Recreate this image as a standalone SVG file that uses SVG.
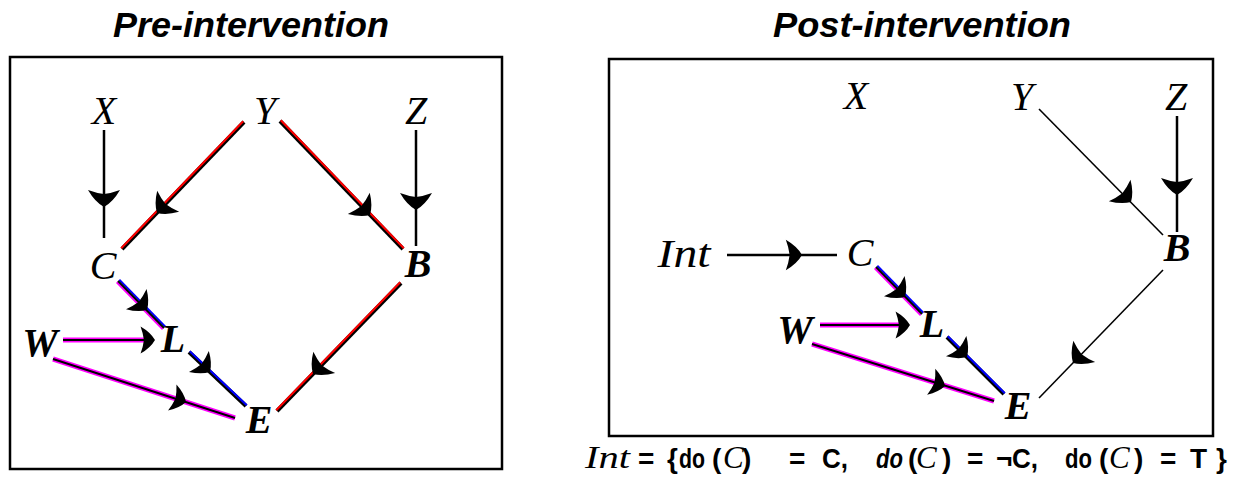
<svg xmlns="http://www.w3.org/2000/svg" xmlns:xlink="http://www.w3.org/1999/xlink" width="1236" height="482" viewBox="0 0 1236 482">
<style>
.title{font-family:"Liberation Sans",Arial,sans-serif;font-weight:bold;font-style:italic;font-size:35px;fill:#000;text-anchor:middle}
.lbl{font-family:"Liberation Serif","Times New Roman",serif;font-style:italic;font-size:40px;fill:#000;text-anchor:middle}
.b{font-weight:bold}
.box{fill:none;stroke:#000;stroke-width:2.5}
.k{stroke:#000;fill:none}
.cap{font-family:"Liberation Sans",Arial,sans-serif;font-weight:bold;font-size:28px;fill:#000}
.capi{font-family:"Liberation Serif","Times New Roman",serif;font-style:italic;font-weight:normal;font-size:31px;fill:#000}
</style>
<defs>
<path id="ah" d="M0,0 Q-5,-9 -17,-16 Q-14,-8 -13,0 Q-14,8 -17,16 Q-5,9 0,0 Z" fill="#000"/>
</defs>
<rect width="1236" height="482" fill="#fff"/>
<text class="title" x="251" y="37" textLength="276" lengthAdjust="spacingAndGlyphs">Pre-intervention</text>
<text class="title" x="922" y="37" textLength="298" lengthAdjust="spacingAndGlyphs">Post-intervention</text>
<rect class="box" x="10" y="57" width="492" height="412"/>
<rect class="box" x="609" y="59" width="604" height="377"/>

<g id="connectors">
<!-- left panel -->
<line class="k" x1="104" y1="130" x2="104" y2="238" stroke-width="2.5"/>
<use xlink:href="#ah" href="#ah" transform="translate(104,207) rotate(90)"/>
<line class="k" x1="416" y1="130" x2="416" y2="246" stroke-width="2.5"/>
<use xlink:href="#ah" href="#ah" transform="translate(416,210) rotate(90)"/>
<line class="k" x1="244" y1="122" x2="122" y2="249" stroke-width="4"/>
<line x1="244" y1="122" x2="122" y2="249" stroke="#f00" stroke-width="2" transform="translate(-0.8,-0.8)"/>
<use xlink:href="#ah" href="#ah" transform="translate(157,213) rotate(133.8) scale(0.95)"/>
<line class="k" x1="280" y1="121" x2="403" y2="249" stroke-width="4"/>
<line x1="280" y1="121" x2="403" y2="249" stroke="#f00" stroke-width="2" transform="translate(0.8,-0.8)"/>
<use xlink:href="#ah" href="#ah" transform="translate(370,215) rotate(46.1) scale(0.95)"/>
<line class="k" x1="401" y1="283" x2="277" y2="411" stroke-width="4"/>
<line x1="401" y1="283" x2="277" y2="411" stroke="#f00" stroke-width="2" transform="translate(-0.8,-0.8)"/>
<use xlink:href="#ah" href="#ah" transform="translate(313,374) rotate(134.1) scale(0.95)"/>
<line x1="118" y1="281" x2="164" y2="328" stroke="#f0f" stroke-width="2" transform="translate(-1.3,1.3)"/>
<line x1="118" y1="281" x2="164" y2="328" stroke="#00f" stroke-width="2" transform="translate(1.3,-1.3)"/>
<line class="k" x1="118" y1="281" x2="164" y2="328" stroke-width="2"/>
<use xlink:href="#ah" href="#ah" transform="translate(147,310) rotate(45.6) scale(0.9)"/>
<line class="k" x1="189" y1="352" x2="246" y2="406" stroke-width="4"/>
<line x1="189" y1="352" x2="246" y2="406" stroke="#00f" stroke-width="2" transform="translate(0.8,-0.8)"/>
<use xlink:href="#ah" href="#ah" transform="translate(210,372) rotate(43.5) scale(0.9)"/>
<line x1="63" y1="340" x2="148" y2="340" stroke="#f0f" stroke-width="5"/>
<line class="k" x1="63" y1="340" x2="152" y2="340" stroke-width="2"/>
<use xlink:href="#ah" href="#ah" transform="translate(155,340) scale(0.85)"/>
<line x1="53" y1="359" x2="235" y2="418" stroke="#f0f" stroke-width="5"/>
<line class="k" x1="53" y1="359" x2="235" y2="418" stroke-width="2"/>
<use xlink:href="#ah" href="#ah" transform="translate(186,402) rotate(18) scale(0.85)"/>

<!-- right panel -->
<line class="k" x1="727" y1="255" x2="837" y2="255" stroke-width="2.5"/>
<use xlink:href="#ah" href="#ah" transform="translate(802,255) scale(0.95)"/>
<line class="k" x1="1039" y1="109" x2="1163" y2="235" stroke-width="1.6"/>
<use xlink:href="#ah" href="#ah" transform="translate(1131,202) rotate(45.5) scale(0.95)"/>
<line class="k" x1="1177" y1="116" x2="1177" y2="232" stroke-width="2.5"/>
<use xlink:href="#ah" href="#ah" transform="translate(1177,195) rotate(90)"/>
<line class="k" x1="1163" y1="270" x2="1039" y2="398" stroke-width="1.6"/>
<use xlink:href="#ah" href="#ah" transform="translate(1073,363) rotate(134.1) scale(0.95)"/>
<line x1="876" y1="267" x2="922" y2="314" stroke="#f0f" stroke-width="2" transform="translate(-1.3,1.3)"/>
<line x1="876" y1="267" x2="922" y2="314" stroke="#00f" stroke-width="2" transform="translate(1.3,-1.3)"/>
<line class="k" x1="876" y1="267" x2="922" y2="314" stroke-width="2"/>
<use xlink:href="#ah" href="#ah" transform="translate(905,297) rotate(45.6) scale(0.9)"/>
<line class="k" x1="947" y1="337" x2="1004" y2="394" stroke-width="4"/>
<line x1="947" y1="337" x2="1004" y2="394" stroke="#00f" stroke-width="2" transform="translate(0.8,-0.8)"/>
<use xlink:href="#ah" href="#ah" transform="translate(967,357) rotate(45) scale(0.9)"/>
<line x1="820" y1="325" x2="903" y2="325" stroke="#f0f" stroke-width="5"/>
<line class="k" x1="820" y1="325" x2="907" y2="325" stroke-width="2"/>
<use xlink:href="#ah" href="#ah" transform="translate(910,325) scale(0.85)"/>
<line x1="812" y1="344" x2="994" y2="401" stroke="#f0f" stroke-width="5"/>
<line class="k" x1="812" y1="344" x2="994" y2="401" stroke-width="2"/>
<use xlink:href="#ah" href="#ah" transform="translate(945,386) rotate(17.4) scale(0.85)"/>
</g>

<g id="pre-X"><text class="lbl" x="104" y="124">X</text></g>
<g id="pre-Y"><text class="lbl" x="265" y="124">Y</text></g>
<g id="pre-Z"><text class="lbl" x="416" y="124">Z</text></g>
<g id="pre-C"><text class="lbl" x="103" y="279">C</text></g>
<g id="pre-B"><text class="lbl b" x="418" y="277">B</text></g>
<g id="pre-W"><text class="lbl b" x="40" y="356">W</text></g>
<g id="pre-L"><text class="lbl b" x="173" y="352">L</text></g>
<g id="pre-E"><text class="lbl b" x="259" y="433">E</text></g>

<g id="post-X"><text class="lbl" x="856" y="109">X</text></g>
<g id="post-Y"><text class="lbl" x="1022" y="110">Y</text></g>
<g id="post-Z"><text class="lbl" x="1176" y="110">Z</text></g>
<g id="post-B"><text class="lbl b" x="1177" y="261">B</text></g>
<g id="post-Int"><text class="lbl" x="684" y="267" textLength="53" lengthAdjust="spacingAndGlyphs">Int</text></g>
<g id="post-C"><text class="lbl" x="860" y="266">C</text></g>
<g id="post-W"><text class="lbl b" x="795" y="343">W</text></g>
<g id="post-L"><text class="lbl b" x="932" y="337">L</text></g>
<g id="post-E"><text class="lbl b" x="1018" y="419">E</text></g>

<g id="caption">
<text class="capi" x="585" y="468" textLength="45" lengthAdjust="spacingAndGlyphs">Int</text>
<text class="cap" x="638" y="468">=</text>
<text class="cap" x="667" y="468">{</text>
<text class="cap" x="679" y="468" textLength="26" lengthAdjust="spacingAndGlyphs">do</text>
<text class="cap" x="712" y="468">(</text>
<text class="capi" x="723" y="468">C</text>
<text class="cap" x="742" y="468">)</text>
<text class="cap" x="789" y="468">=</text>
<text class="cap" x="822" y="468" textLength="26" lengthAdjust="spacingAndGlyphs">C,</text>
<text class="cap" x="876" y="468" font-style="italic" textLength="27" lengthAdjust="spacingAndGlyphs">do</text>
<text class="cap" x="908" y="468">(</text>
<text class="capi" x="916" y="468">C</text>
<text class="cap" x="942" y="468">)</text>
<text class="cap" x="967" y="468">=</text>
<text class="cap" x="996" y="468">¬</text>
<text class="cap" x="1012" y="468" textLength="26" lengthAdjust="spacingAndGlyphs">C,</text>
<text class="cap" x="1065" y="468" textLength="27" lengthAdjust="spacingAndGlyphs">do</text>
<text class="cap" x="1099" y="468">(</text>
<text class="capi" x="1109" y="468">C</text>
<text class="cap" x="1134" y="468">)</text>
<text class="cap" x="1160" y="468">=</text>
<text class="cap" x="1190" y="468">T</text>
<text class="cap" x="1216" y="468">}</text>
</g>
</svg>
